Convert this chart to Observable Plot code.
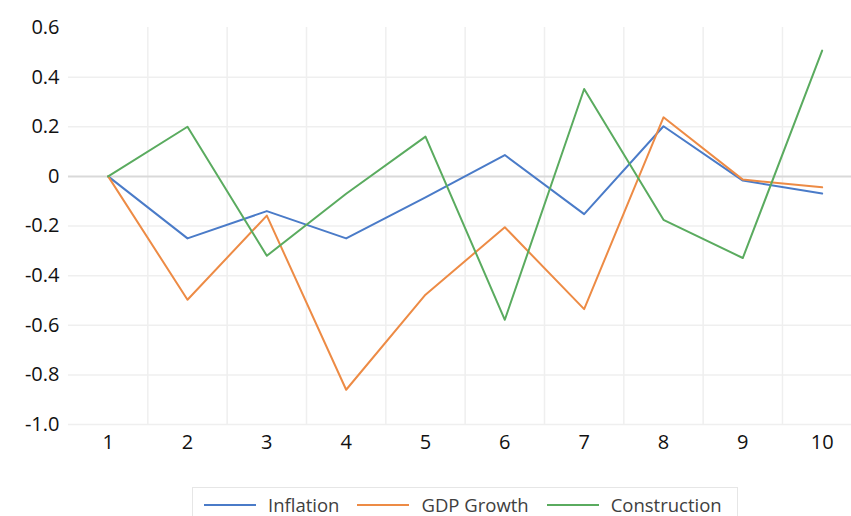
<!DOCTYPE html>
<html>
<head>
<meta charset="utf-8">
<script src="https://cdn.jsdelivr.net/npm/d3@7"></script>
<script src="https://cdn.jsdelivr.net/npm/@observablehq/plot@0.6"></script>
<style>
  body { margin: 0; background: #fff; font-family: "Open Sans", sans-serif; overflow: hidden; }
  #legend { position: absolute; left: 192px; top: 487px; width: 546px; height: 30px; border: 1px solid #e6e6e6; box-sizing: border-box; display: flex; align-items: flex-start; padding-top: 7px; font-size: 18.5px; line-height: 19px; color: #404040; }
  .item { display: flex; align-items: center; height: 19px; }
  .sw { width: 52px; height: 2px; margin: 0 12px 0 18px; }
  .item:first-child .sw { margin-left: 11px; }
</style>
</head>
<body>
<div id="chart"></div>
<div id="legend"></div>
<script>
const periods = [1, 2, 3, 4, 5, 6, 7, 8, 9, 10];
const inflation = [0, -0.25, -0.14, -0.25, -0.085, 0.086, -0.152, 0.202, -0.017, -0.069];
const gdpGrowth = [0, -0.497, -0.158, -0.86, -0.477, -0.205, -0.535, 0.238, -0.013, -0.044];
const construction = [0, 0.2, -0.32, -0.07, 0.16, -0.578, 0.352, -0.175, -0.329, 0.507];
const seriesNames = ["Inflation", "GDP Growth", "Construction"];
const seriesColors = ["#4a7bc8", "#ed8b45", "#5aab5f"];
const yTicks = [0.6, 0.4, 0.2, 0, -0.2, -0.4, -0.6, -0.8, -1.0];
const yTickLabels = ["0.6", "0.4", "0.2", "0", "-0.2", "-0.4", "-0.6", "-0.8", "-1.0"];
const xTickLabels = ["1", "2", "3", "4", "5", "6", "7", "8", "9", "10"];

const seriesValues = [inflation, gdpGrowth, construction];
const rows = [];
seriesNames.forEach((name, s) => {
  periods.forEach((p, i) => rows.push({series: name, period: p, value: seriesValues[s][i]}));
});
const boundaries = periods.slice(0, -1).map(p => p + 0.5);

const chart = Plot.plot({
  width: 851,
  height: 470,
  marginLeft: 68,
  marginRight: 0,
  marginTop: 27,
  marginBottom: 46,
  style: {fontFamily: "'Open Sans', sans-serif", background: "#fff"},
  x: {domain: [0.5, 10.37]},
  y: {domain: [-1, 0.6]},
  color: {domain: seriesNames, range: seriesColors},
  marks: [
    Plot.ruleY(yTicks.filter(v => v !== 0.6 && v !== 0), {stroke: "#efefef", strokeWidth: 1.5}),
    Plot.ruleX(boundaries, {y1: -1, y2: 0.6, stroke: "#efefef", strokeWidth: 1.5}),
    Plot.ruleY([0], {stroke: "#d9d9d9", strokeWidth: 2}),
    Plot.line(rows, {x: "period", y: "value", z: "series", stroke: "series", strokeWidth: 2}),
    Plot.axisY({ticks: yTicks, tickFormat: (d) => yTickLabels[yTicks.indexOf(d)], tickSize: 0, tickPadding: 9, fontSize: 20, fill: "#111", label: null}),
    Plot.axisX({ticks: periods, tickFormat: d => xTickLabels[periods.indexOf(d)], tickSize: 0, tickPadding: 10, fontSize: 20, fill: "#111", label: null})
  ]
});
document.getElementById("chart").appendChild(chart);

const legend = document.getElementById("legend");
seriesNames.forEach((name, i) => {
  const item = document.createElement("div");
  item.className = "item";
  const sw = document.createElement("span");
  sw.className = "sw";
  sw.style.background = seriesColors[i];
  const label = document.createElement("span");
  label.textContent = name;
  item.appendChild(sw);
  item.appendChild(label);
  legend.appendChild(item);
});
</script>
</body>
</html>
